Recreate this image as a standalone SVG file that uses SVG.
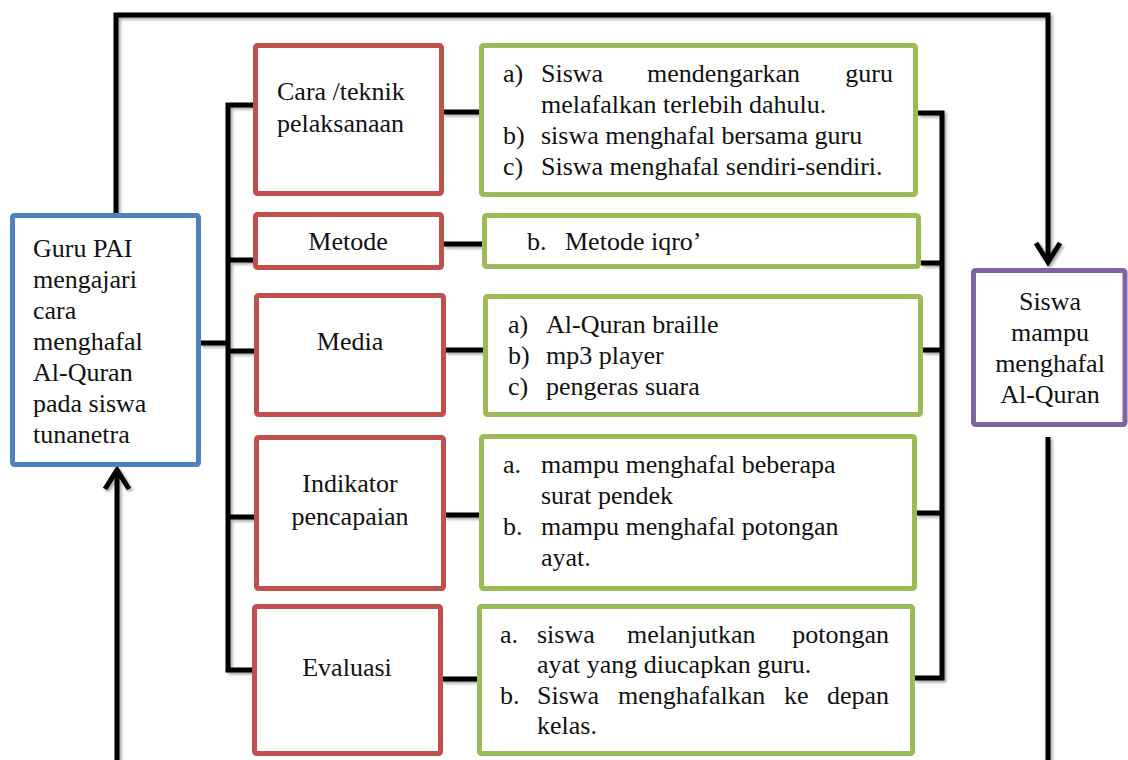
<svg xmlns="http://www.w3.org/2000/svg" width="1128" height="760" viewBox="0 0 1128 760">
<defs>
<filter id="sh" x="-20%" y="-20%" width="140%" height="140%">
<feDropShadow dx="2" dy="2" stdDeviation="1.5" flood-color="#000" flood-opacity="0.35"/>
</filter>
</defs>
<style>
text{font-family:"Liberation Serif","Times New Roman",serif;font-size:26px;fill:#111}
.c{text-anchor:middle}
.e{text-anchor:end}
.box{fill:#fff;stroke-width:5}
.red{stroke:#C0504D}
.grn{stroke:#9BBB59}
.blu{stroke:#4F81BD}
.pur{stroke:#8064A2}
.ln{fill:none;stroke:#000;stroke-width:5;stroke-linejoin:miter}
</style>
<rect width="1128" height="760" fill="#fff"/>
<g id="connectors" filter="url(#sh)">
<path class="ln" d="M116,214 V15 H1048 V262"/>
<polyline class="ln" points="1036,243 1048,262 1060,243"/>
<path class="ln" d="M117,760 V472"/>
<polyline class="ln" points="105,489 117,470 129,489"/>
<path class="ln" d="M1048,437 V760"/>
<path class="ln" d="M255,105 H228 V670 H255"/>
<path class="ln" d="M228,260 H255 M228,351 H256 M228,517 H256 M200,343 H228"/>
<path class="ln" d="M443,112 H481 M443,244 H484 M445,350 H485 M445,515 H479 M441,679 H477"/>
<path class="ln" d="M918,113 H942 V678 H914"/>
<path class="ln" d="M921,263 H942 M922,350 H942 M916,513 H942"/>
</g>
<g id="guru">
<rect class="box blu" x="12.5" y="215.5" width="186" height="249" rx="2"/>
<text x="33" y="257">Guru PAI</text>
<text x="33" y="288">mengajari</text>
<text x="33" y="319">cara</text>
<text x="33" y="350">menghafal</text>
<text x="33" y="381">Al-Quran</text>
<text x="33" y="412">pada siswa</text>
<text x="33" y="443">tunanetra</text>
</g>
<g id="cara">
<rect class="box red" x="255.5" y="45.5" width="186" height="148" rx="2"/>
<text x="277" y="100">Cara /teknik</text>
<text x="277" y="132">pelaksanaan</text>
</g>
<g id="metode">
<rect class="box red" x="255.5" y="214.5" width="186" height="53" rx="2"/>
<text class="c" x="348" y="250">Metode</text>
</g>
<g id="media">
<rect class="box red" x="256.5" y="295.5" width="187" height="119" rx="2"/>
<text class="c" x="350" y="350">Media</text>
</g>
<g id="indikator">
<rect class="box red" x="256.5" y="437.5" width="187" height="151" rx="2"/>
<text class="c" x="350" y="492">Indikator</text>
<text class="c" x="350" y="525">pencapaian</text>
</g>
<g id="evaluasi">
<rect class="box red" x="254.5" y="606.5" width="186" height="147" rx="2"/>
<text class="c" x="347" y="676">Evaluasi</text>
</g>
<g id="cara-detail">
<rect class="box grn" x="481.5" y="45.5" width="434" height="149" rx="2"/>
<text x="503" y="82">a)</text>
<text x="541" y="82">Siswa</text>
<text x="647" y="82">mendengarkan</text>
<text class="e" x="893" y="82">guru</text>
<text x="541" y="113">melafalkan terlebih dahulu.</text>
<text x="503" y="144">b)</text>
<text x="541" y="144">siswa menghafal bersama guru</text>
<text x="503" y="175">c)</text>
<text x="541" y="175">Siswa menghafal sendiri-sendiri.</text>
</g>
<g id="metode-detail">
<rect class="box grn" x="484.5" y="215.5" width="434" height="51" rx="2"/>
<text x="527" y="250">b.</text>
<text x="565" y="250">Metode iqro’</text>
</g>
<g id="media-detail">
<rect class="box grn" x="485.5" y="296.5" width="435" height="118" rx="2"/>
<text x="508" y="333">a)</text>
<text x="546" y="333">Al-Quran braille</text>
<text x="508" y="364">b)</text>
<text x="546" y="364">mp3 player</text>
<text x="508" y="395">c)</text>
<text x="546" y="395">pengeras suara</text>
</g>
<g id="indikator-detail">
<rect class="box grn" x="481.5" y="436.5" width="433" height="152" rx="2"/>
<text x="503" y="473">a.</text>
<text x="541" y="473">mampu menghafal beberapa</text>
<text x="541" y="504">surat pendek</text>
<text x="503" y="535">b.</text>
<text x="541" y="535">mampu menghafal potongan</text>
<text x="541" y="566">ayat.</text>
</g>
<g id="evaluasi-detail">
<rect class="box grn" x="479.5" y="606.5" width="433" height="147" rx="2"/>
<text x="500" y="643">a.</text>
<text x="537" y="643">siswa</text>
<text x="627" y="643">melanjutkan</text>
<text class="e" x="889" y="643">potongan</text>
<text x="537" y="673">ayat yang diucapkan guru.</text>
<text x="500" y="704">b.</text>
<text x="537" y="704">Siswa</text>
<text x="618" y="704">menghafalkan</text>
<text x="784" y="704">ke</text>
<text class="e" x="889" y="704">depan</text>
<text x="537" y="734">kelas.</text>
</g>
<g id="siswa">
<rect class="box pur" x="973.5" y="270.5" width="151.5" height="154" rx="2"/>
<text class="c" x="1050" y="310">Siswa</text>
<text class="c" x="1050" y="341">mampu</text>
<text class="c" x="1050" y="372">menghafal</text>
<text class="c" x="1050" y="403">Al-Quran</text>
</g>
</svg>
